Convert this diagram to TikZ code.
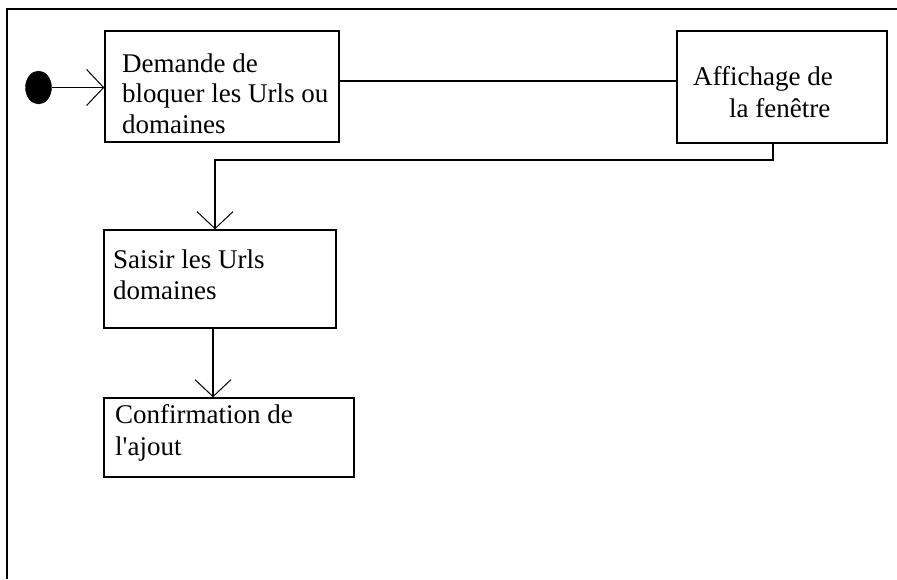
\documentclass[tikz,border=0pt]{standalone}
\usepackage{fontspec}
\setmainfont{Liberation Serif}
\usetikzlibrary{arrows.meta,shapes.geometric}
\begin{document}
\begin{tikzpicture}[x=1pt,y=-1pt,
  box/.style={draw, line width=1.4pt, inner sep=0pt, rectangle},
  lbl/.style={anchor=base west, inner sep=0pt},
  conn/.style={line width=1.3pt},
  tip/.style={-{Straight Barb[length=17pt,width=36pt,line width=1pt]}}]
\useasboundingbox (0,0) rectangle (897,579);
% frame
\draw[line width=1.4pt] (7,579) -- (7,9) -- (897,9);
% initial state
\node[ellipse, fill=black, draw=black, minimum width=26pt, minimum height=33pt, inner sep=0pt] (init) at (38.5,87.5) {};
% boxes
\node[box, minimum width=234pt, minimum height=111pt] (box1) at (222,86.5) {};
\node[box, minimum width=210pt, minimum height=112pt] (box2) at (782,87) {};
\node[box, minimum width=232pt, minimum height=98pt] (box3) at (220,279) {};
\node[box, minimum width=250pt, minimum height=79pt] (box4) at (229,437.5) {};
% texts
\node[lbl] (t1) at (122,72) {\parbox[t]{300pt}{\fontsize{27}{30.5}\selectfont\raggedright Demande de\\bloquer les Urls ou\\domaines}};
\node[lbl] (t2) at (693,85) {\parbox[t]{300pt}{\fontsize{27}{32}\selectfont\raggedright Affichage de\\\hspace*{36pt}la fenêtre}};
\node[lbl] (t3) at (113,268) {\parbox[t]{300pt}{\fontsize{27}{31}\selectfont\raggedright Saisir les Urls\\domaines}};
\node[lbl] (t4) at (115,423) {\parbox[t]{300pt}{\fontsize{27}{32}\selectfont\raggedright Confirmation de\\l\textquotesingle ajout}};
% connectors
\draw[conn, tip] (init.east) -- (init.east -| box1.west);
\draw[conn] (box1.east |- 0,81) -- (box2.west |- 0,81);
\coordinate (c1) at (773,160);
\coordinate (c2) at (215,160);
\draw[conn, tip] (c1 |- box2.south) -- (c1) -- (c2) -- (c2 |- box3.north);
\coordinate (c3) at (213,0);
\draw[conn, tip] (c3 |- box3.south) -- (c3 |- box4.north);
\end{tikzpicture}
\end{document}
